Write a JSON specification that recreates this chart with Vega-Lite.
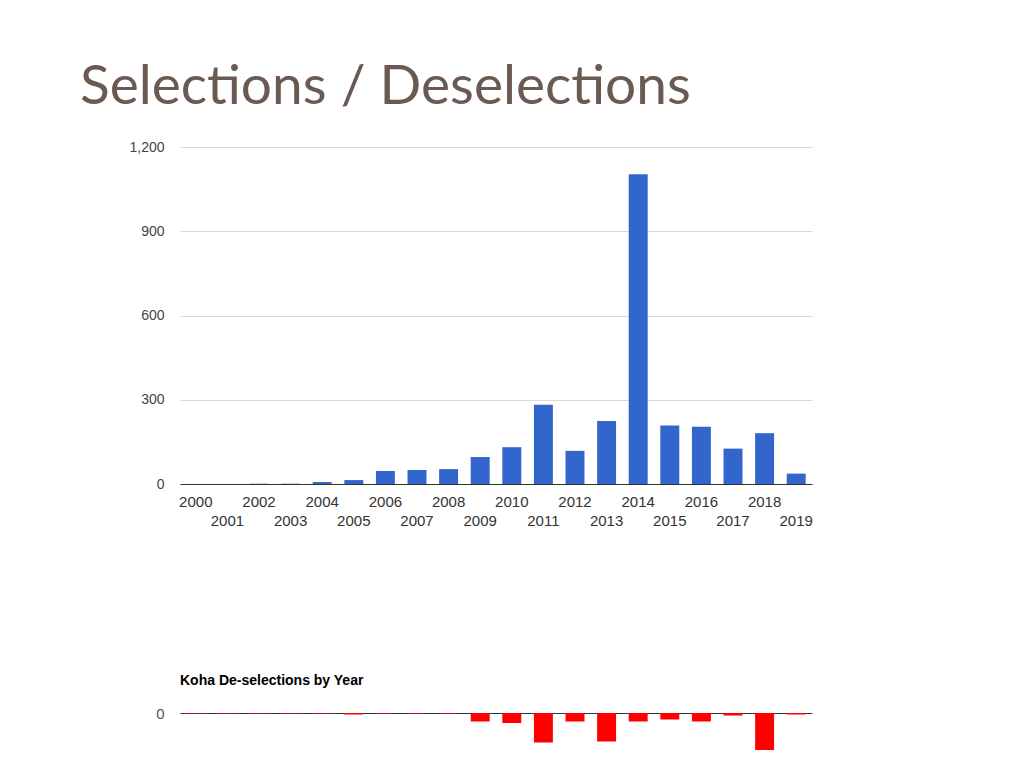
{
  "$schema": "https://vega.github.io/schema/vega-lite/v6.json",
  "background": "white",
  "padding": {"left": 80, "top": 60, "right": 0, "bottom": 0},
  "config": {"view": {"stroke": null}, "font": "Liberation Sans"},
  "spacing": 146,
  "datasets": {
    "sel": [
      {"year": 2000, "count": 0}, {"year": 2001, "count": 0}, {"year": 2002, "count": 1}, {"year": 2003, "count": 1},
      {"year": 2004, "count": 7}, {"year": 2005, "count": 14}, {"year": 2006, "count": 46}, {"year": 2007, "count": 50},
      {"year": 2008, "count": 53}, {"year": 2009, "count": 96}, {"year": 2010, "count": 131}, {"year": 2011, "count": 282},
      {"year": 2012, "count": 118}, {"year": 2013, "count": 224}, {"year": 2014, "count": 1103}, {"year": 2015, "count": 208},
      {"year": 2016, "count": 204}, {"year": 2017, "count": 126}, {"year": 2018, "count": 181}, {"year": 2019, "count": 37}
    ],
    "desel": [
      {"year": 2000, "count": -1}, {"year": 2001, "count": -1}, {"year": 2002, "count": -1}, {"year": 2003, "count": -1},
      {"year": 2004, "count": -1}, {"year": 2005, "count": -3}, {"year": 2006, "count": -1}, {"year": 2007, "count": -1},
      {"year": 2008, "count": -1}, {"year": 2009, "count": -17}, {"year": 2010, "count": -20}, {"year": 2011, "count": -59},
      {"year": 2012, "count": -17}, {"year": 2013, "count": -57}, {"year": 2014, "count": -17}, {"year": 2015, "count": -13},
      {"year": 2016, "count": -17}, {"year": 2017, "count": -5}, {"year": 2018, "count": -74}, {"year": 2019, "count": -3}
    ]
  },
  "vconcat": [
    {
      "title": {"text": "Selections / Deselections", "anchor": "start", "frame": "group", "font": "Lato", "fontSize": 55, "fontWeight": "normal", "color": "#6b5a52", "dx": -100, "offset": 24},
      "width": 632,
      "height": 337,
      "data": {"name": "sel"},
      "mark": {"type": "bar", "color": "#3366cc"},
      "encoding": {
        "x": {
          "field": "year", "type": "ordinal",
          "scale": {"paddingInner": 0.4, "paddingOuter": 0.2},
          "axis": {"title": null, "labelAngle": 0, "labelOverlap": false, "labelExpr": "(+datum.value) % 2 == 0 ? datum.label : ['', datum.label]", "labelFontSize": 15, "labelColor": "#333", "labelPadding": 10, "labelLineHeight": 19, "ticks": false, "domainColor": "#333", "domainWidth": 1}
        },
        "y": {
          "field": "count", "type": "quantitative",
          "scale": {"domain": [0, 1200], "nice": false},
          "axis": {"title": null, "values": [0, 300, 600, 900, 1200], "format": ",d", "labelFontSize": 14, "labelColor": "#444", "labelPadding": 16, "ticks": false, "domain": false, "grid": true, "gridColor": "#d9d9d9"}
        }
      }
    },
    {
      "title": {"text": "Koha De-selections by Year", "anchor": "start", "frame": "group", "font": "Liberation Sans", "fontSize": 14, "fontWeight": "bold", "color": "#000000", "offset": 18},
      "width": 632,
      "height": 40,
      "data": {"name": "desel"},
      "mark": {"type": "bar", "color": "#ff0000"},
      "encoding": {
        "x": {
          "field": "year", "type": "ordinal",
          "scale": {"paddingInner": 0.4, "paddingOuter": 0.2},
          "axis": {"orient": "top", "title": null, "labels": false, "ticks": false, "domainColor": "#333", "domainWidth": 1}
        },
        "y": {
          "field": "count", "type": "quantitative",
          "scale": {"domain": [-80, 0], "nice": false},
          "axis": {"title": null, "values": [0], "labelFontSize": 15, "labelColor": "#555", "labelPadding": 16, "ticks": false, "domain": false, "grid": false}
        }
      }
    }
  ]
}
